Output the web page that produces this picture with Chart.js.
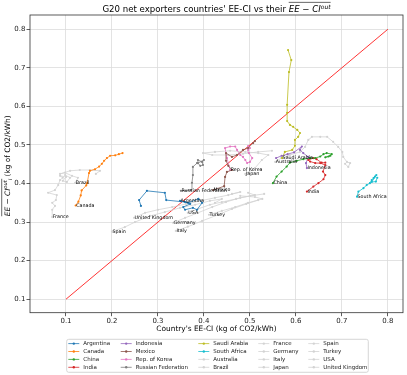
<!DOCTYPE html>
<html lang="en">
<head>
<meta charset="UTF-8">
<title>G20 net exporters EE-CI</title>
<script src="https://cdn.jsdelivr.net/npm/chart.js"></script>
<style>
  html, body { margin: 0; padding: 0; background: #fff; }
</style>
</head>
<body>
<canvas id="eeChart" width="407" height="375"></canvas>
<script>
// legend order (matplotlib column-major order)
const countries = ['Argentina', 'Canada', 'China', 'India', 'Indonesia', 'Mexico', 'Rep. of Korea',
  'Russian Federation', 'Saudi Arabia', 'South Africa', 'Australia', 'Brazil', 'France', 'Germany',
  'Italy', 'Japan', 'Spain', 'Turkey', 'USA', 'United Kingdom'];
const colours = ['#1f77b4', '#ff7f0e', '#2ca02c', '#d62728', '#9467bd', '#8c564b', '#e377c2',
  '#7f7f7f', '#bcbd22', '#17becf'];
const greyColour = '#d3d3d3';
const tickValues = [0.1, 0.2, 0.3, 0.4, 0.5, 0.6, 0.7, 0.8];
const diagonal = [0.1, 0.8];

// x = country's EE-CI, y = mean EE-CI of its exports, one point per year
const argentinaEE = [0.348, 0.366, 0.388, 0.396, 0.385, 0.376, 0.359, 0.355, 0.370, 0.359, 0.318, 0.315, 0.276, 0.259, 0.263];
const argentinaOut = [0.355, 0.350, 0.360, 0.350, 0.332, 0.337, 0.332, 0.339, 0.347, 0.352, 0.357, 0.376, 0.381, 0.357, 0.342];
const canadaEE = [0.121, 0.127, 0.132, 0.134, 0.144, 0.146, 0.150, 0.152, 0.163, 0.172, 0.178, 0.183, 0.189, 0.196, 0.207, 0.215, 0.223];
const canadaOut = [0.343, 0.353, 0.369, 0.382, 0.395, 0.401, 0.427, 0.433, 0.437, 0.444, 0.451, 0.459, 0.466, 0.472, 0.473, 0.476, 0.479];
const chinaEE = [0.550, 0.558, 0.569, 0.580, 0.587, 0.602, 0.616, 0.631, 0.642, 0.653, 0.660, 0.667, 0.678, 0.671, 0.664, 0.675];
const chinaOut = [0.401, 0.418, 0.431, 0.444, 0.454, 0.459, 0.463, 0.466, 0.466, 0.470, 0.476, 0.479, 0.476, 0.470, 0.468, 0.472];
const indiaEE = [0.624, 0.638, 0.649, 0.660, 0.664, 0.659, 0.664, 0.653, 0.642, 0.631, 0.627, 0.638, 0.645, 0.656, 0.664];
const indiaOut = [0.379, 0.392, 0.401, 0.411, 0.422, 0.431, 0.448, 0.453, 0.453, 0.457, 0.461, 0.466, 0.463, 0.454, 0.454];
const indonesiaEE = [0.624, 0.622, 0.627, 0.616, 0.609, 0.613, 0.596, 0.582, 0.569, 0.557];
const indonesiaOut = [0.440, 0.453, 0.469, 0.479, 0.487, 0.496, 0.481, 0.476, 0.472, 0.466];
const mexicoEE = [0.420, 0.444, 0.446, 0.450, 0.461, 0.453, 0.448, 0.448, 0.461, 0.472, 0.485, 0.496, 0.507, 0.511];
const mexicoOut = [0.383, 0.393, 0.417, 0.430, 0.435, 0.446, 0.459, 0.479, 0.469, 0.474, 0.487, 0.492, 0.505, 0.510];
const koreaEE = [0.457, 0.450, 0.446, 0.457, 0.468, 0.472, 0.479, 0.485, 0.490, 0.494, 0.500, 0.505, 0.498, 0.496, 0.500, 0.496];
const koreaOut = [0.435, 0.466, 0.492, 0.496, 0.496, 0.487, 0.474, 0.469, 0.461, 0.453, 0.456, 0.466, 0.479, 0.487, 0.492, 0.497];
const russiaEE = [0.350, 0.372, 0.374, 0.376, 0.376, 0.385, 0.387, 0.396, 0.398, 0.392, 0.387, 0.400];
const russiaOut = [0.381, 0.383, 0.402, 0.422, 0.443, 0.453, 0.461, 0.456, 0.448, 0.446, 0.453, 0.461];
const saudiEE = [0.570, 0.576, 0.592, 0.598, 0.598, 0.605, 0.609, 0.603, 0.594, 0.587, 0.581, 0.581, 0.581, 0.585, 0.590, 0.583];
const saudiOut = [0.466, 0.482, 0.487, 0.498, 0.513, 0.521, 0.531, 0.539, 0.547, 0.552, 0.562, 0.583, 0.604, 0.689, 0.720, 0.746];
const southAfricaEE = [0.733, 0.736, 0.747, 0.754, 0.761, 0.765, 0.772, 0.769, 0.775, 0.765, 0.774, 0.777];
const southAfricaOut = [0.366, 0.379, 0.388, 0.396, 0.401, 0.409, 0.418, 0.414, 0.422, 0.404, 0.405, 0.415];
const australiaEE = [0.555, 0.568, 0.587, 0.609, 0.620, 0.627, 0.635, 0.653, 0.668, 0.681, 0.692, 0.701, 0.703, 0.711, 0.718, 0.714, 0.707];
const australiaOut = [0.456, 0.466, 0.474, 0.482, 0.495, 0.513, 0.521, 0.521, 0.521, 0.508, 0.495, 0.482, 0.469, 0.456, 0.453, 0.443, 0.451];
const brazilEE = [0.120, 0.126, 0.113, 0.098, 0.087, 0.109, 0.130, 0.152, 0.174, 0.165];
const brazilOut = [0.402, 0.415, 0.420, 0.428, 0.425, 0.433, 0.435, 0.435, 0.433, 0.425];
const franceEE = [0.070, 0.070, 0.076, 0.070, 0.078, 0.080, 0.061, 0.076, 0.083, 0.087, 0.093, 0.087, 0.100, 0.093, 0.102, 0.109, 0.098];
const franceOut = [0.313, 0.332, 0.342, 0.350, 0.357, 0.370, 0.376, 0.383, 0.396, 0.409, 0.415, 0.420, 0.417, 0.407, 0.404, 0.415, 0.422];
const germanyEE = [0.333, 0.359, 0.387, 0.418, 0.448, 0.479, 0.511, 0.496];
const germanyOut = [0.298, 0.311, 0.324, 0.339, 0.352, 0.363, 0.370, 0.376];
const italyEE = [0.339, 0.365, 0.396, 0.431, 0.461, 0.492, 0.518];
const italyOut = [0.277, 0.288, 0.303, 0.319, 0.334, 0.347, 0.357];
const japanEE = [0.490, 0.511, 0.526, 0.540, 0.518, 0.490, 0.457, 0.424, 0.398, 0.418, 0.453, 0.485, 0.518, 0.548];
const japanOut = [0.425, 0.440, 0.461, 0.474, 0.479, 0.482, 0.485, 0.482, 0.479, 0.474, 0.474, 0.477, 0.482, 0.485];
const spainEE = [0.200, 0.228, 0.250, 0.283, 0.315, 0.348, 0.381, 0.413, 0.439, 0.424];
const spainOut = [0.275, 0.287, 0.300, 0.316, 0.326, 0.337, 0.345, 0.355, 0.360, 0.350];
const turkeyEE = [0.411, 0.439, 0.468, 0.496, 0.527, 0.511, 0.479];
const turkeyOut = [0.319, 0.329, 0.339, 0.350, 0.360, 0.365, 0.368];
const usaEE = [0.365, 0.387, 0.413, 0.439, 0.470, 0.500, 0.531];
const usaOut = [0.324, 0.334, 0.345, 0.352, 0.360, 0.368, 0.373];
const ukEE = [0.248, 0.272, 0.300, 0.331, 0.361, 0.392, 0.424, 0.453, 0.479, 0.461];
const ukOut = [0.311, 0.324, 0.332, 0.339, 0.347, 0.355, 0.363, 0.370, 0.378, 0.373];

const seriesX = [argentinaEE, canadaEE, chinaEE, indiaEE, indonesiaEE, mexicoEE, koreaEE, russiaEE,
  saudiEE, southAfricaEE, australiaEE, brazilEE, franceEE, germanyEE, italyEE, japanEE, spainEE,
  turkeyEE, usaEE, ukEE];
const seriesY = [argentinaOut, canadaOut, chinaOut, indiaOut, indonesiaOut, mexicoOut, koreaOut, russiaOut,
  saudiOut, southAfricaOut, australiaOut, brazilOut, franceOut, germanyOut, italyOut, japanOut, spainOut,
  turkeyOut, usaOut, ukOut];

const FONT = '"DejaVu Sans", sans-serif';

const datasets = countries.map((name, i) => {
  const col = colours[i] || greyColour;
  return {
    label: name,
    country: true,
    data: seriesX[i].map((v, k) => ({ x: v, y: seriesY[i][k] })),
    showLine: true,
    borderColor: col,
    backgroundColor: col,
    borderWidth: 0.8,
    pointRadius: 1.1,
    pointBorderWidth: 0,
    tension: 0
  };
});
datasets.push({
  label: 'y = x',
  data: diagonal.map(v => ({ x: v, y: v })),
  showLine: true,
  borderColor: '#ff0000',
  borderWidth: 0.8,
  pointRadius: 0
});

// draws a line of text with italic / super / subscript / overlined parts
function richText(ctx, parts, cx, baseY, size) {
  const fontFor = p => (p.it ? 'italic ' : '') + ((p.sup || p.sub) ? size * 0.7 : size) + 'px ' + FONT;
  let total = 0;
  parts.forEach(p => { ctx.font = fontFor(p); p.w = ctx.measureText(p.t).width; total += p.w; });
  let x = cx - total / 2, o0 = null, o1 = null;
  ctx.textAlign = 'left';
  ctx.textBaseline = 'alphabetic';
  parts.forEach(p => {
    ctx.font = fontFor(p);
    const dy = p.sup ? -size * 0.4 : p.sub ? size * 0.22 : 0;
    ctx.fillText(p.t, x, baseY + dy);
    if (p.over) { if (o0 === null) o0 = x; o1 = x + p.w; }
    x += p.w;
  });
  if (o0 !== null) {
    ctx.lineWidth = 0.6;
    ctx.beginPath();
    ctx.moveTo(o0, baseY - size * 1.12);
    ctx.lineTo(o1, baseY - size * 1.12);
    ctx.stroke();
  }
}

const overlay = {
  id: 'overlay',
  afterDatasetsDraw(chart) {
    const { ctx, chartArea: a, scales: { x, y } } = chart;
    ctx.save();
    ctx.strokeStyle = '#333';
    ctx.lineWidth = 0.8;
    ctx.strokeRect(a.left, a.top, a.right - a.left, a.bottom - a.top);

    // country names at the first point of each path
    ctx.fillStyle = '#000';
    ctx.font = '4.8px ' + FONT;
    ctx.textAlign = 'left';
    ctx.textBaseline = 'middle';
    chart.data.datasets.forEach(ds => {
      if (!ds.country) return;
      const p = ds.data[0];
      ctx.fillText(ds.label, x.getPixelForValue(p.x) + 0.5, y.getPixelForValue(p.y));
    });
    ctx.restore();
  },
  afterDraw(chart) {
    const { ctx, chartArea: a } = chart;
    ctx.save();
    ctx.fillStyle = '#000';
    ctx.strokeStyle = '#000';
    const mid = (a.left + a.right) / 2;

    richText(ctx, [
      { t: "G20 net exporters countries' EE-CI vs their " },
      { t: 'EE \u2212 CI', it: true, over: true },
      { t: 'out', it: true, sup: true, over: true }
    ], mid, 12, 8.6);

    richText(ctx, [{ t: "Country's EE-CI (kg of CO2/kWh)" }], mid, 331, 7.4);

    ctx.save();
    ctx.translate(10, (a.top + a.bottom) / 2 + 2);
    ctx.rotate(-Math.PI / 2);
    richText(ctx, [
      { t: 'EE \u2212 CI', it: true, over: true },
      { t: 'out', it: true, sup: true, over: true },
      { t: 'i', it: true, sub: true, over: true },
      { t: ' (kg of CO2/kWh)' }
    ], 0, 0, 7.4);
    ctx.restore();

    // legend box, 5 columns x 4 rows
    const boxL = 66.7, boxT = 339.3, boxR = 368.3, boxB = 372.3;
    ctx.fillStyle = 'rgba(255,255,255,0.85)';
    ctx.strokeStyle = '#cccccc';
    ctx.lineWidth = 0.8;
    ctx.beginPath();
    ctx.roundRect(boxL, boxT, boxR - boxL, boxB - boxT, 2);
    ctx.fill();
    ctx.stroke();
    const colX = [68.3, 120.7, 198.3, 258.3, 308.3];
    ctx.font = '5.5px ' + FONT;
    ctx.textBaseline = 'middle';
    ctx.textAlign = 'left';
    countries.forEach((name, i) => {
      const cx = colX[Math.floor(i / 4)];
      const cy = 343.6 + (i % 4) * 7.9;
      const col = colours[i] || greyColour;
      ctx.strokeStyle = col;
      ctx.fillStyle = col;
      ctx.lineWidth = 0.8;
      ctx.beginPath();
      ctx.moveTo(cx, cy);
      ctx.lineTo(cx + 11, cy);
      ctx.stroke();
      ctx.beginPath();
      ctx.arc(cx + 5.5, cy, 1.2, 0, Math.PI * 2);
      ctx.fill();
      ctx.fillStyle = '#222';
      ctx.fillText(name, cx + 15, cy);
    });
    ctx.restore();
  }
};

const fixTicks = scale => { scale.ticks = tickValues.map(v => ({ value: v })); };

new Chart(document.getElementById('eeChart'), {
  type: 'scatter',
  data: { datasets },
  options: {
    responsive: false,
    animation: false,
    devicePixelRatio: 1,
    layout: { padding: { left: 0, right: 4, top: 15, bottom: 48.3 } },
    plugins: { legend: { display: false }, tooltip: { enabled: false } },
    scales: {
      x: {
        type: 'linear',
        min: 0.0217,
        max: 0.833,
        afterBuildTicks: fixTicks,
        afterFit(scale) { scale.height = 14; },
        grid: { color: '#dcdcdc', lineWidth: 0.8, tickLength: 3.5, tickColor: '#333' },
        border: { display: false },
        ticks: { color: '#222', font: { family: FONT, size: 7 }, padding: 1, maxRotation: 0,
          callback: v => v.toFixed(1) }
      },
      y: {
        type: 'linear',
        min: 0.065,
        max: 0.837,
        afterBuildTicks: fixTicks,
        afterFit(scale) { scale.width = 30; },
        grid: { color: '#dcdcdc', lineWidth: 0.8, tickLength: 3.5, tickColor: '#333' },
        border: { display: false },
        ticks: { color: '#222', font: { family: FONT, size: 7 }, padding: 1,
          callback: v => v.toFixed(1) }
      }
    }
  },
  plugins: [overlay]
});
</script>
</body>
</html>
